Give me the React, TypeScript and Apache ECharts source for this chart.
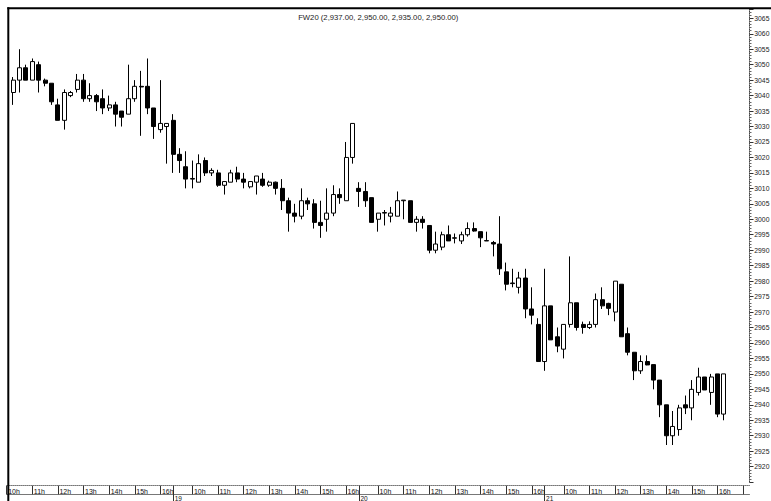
import React, { useEffect, useRef } from 'react';
import * as echarts from 'echarts';

// ---- data ----
const SYMBOL = 'FW20';
const DAYS = ['18', '19', '20', '21'];
const SLOT_TIMES = [
  '09:15', '09:30', '09:45', '10:00', '10:15', '10:30', '10:45', '11:00', '11:15', '11:30',
  '11:45', '12:00', '12:15', '12:30', '12:45', '13:00', '13:15', '13:30', '13:45', '14:00',
  '14:15', '14:30', '14:45', '15:00', '15:15', '15:30', '15:45', '16:00', '16:15',
];
const FIRST_DAY_START = '10:00';
const FUTURE_TIMES = ['16:30', '16:45', '17:00', '17:15'];

// 15-minute candles starting at 18 10:15
const OPEN = [
  3041, 3045, 3049, 3045, 3050, 3045, 3044, 3037, 3032, 3040,
  3042, 3045, 3039, 3040, 3039, 3036, 3037, 3035, 3034, 3039,
  3043, 3043, 3036, 3029, 3030, 3032, 3021, 3017, 3013, 3012,
  3019, 3015, 3015, 3011, 3012, 3015, 3013, 3010.5, 3012, 3013,
  3011, 3012, 3010, 3006, 3002, 3001, 3006, 3005, 2999, 3000,
  3002, 3008, 3006, 3020, 3010, 3009, 3007, 3000, 3002, 3001,
  3001, 3006, 3006, 2999, 3000, 2998, 2990, 2991, 2995, 2994,
  2993, 2995, 2997, 2996, 2993.1, 2992.5, 2992, 2983, 2979.4, 2978,
  2981, 2971, 2966, 2954, 2972, 2962, 2958, 2966, 2973, 2966,
  2965, 2966, 2974, 2972.8, 2970, 2979, 2963, 2957, 2951, 2954,
  2953, 2948, 2940, 2930, 2932, 2940, 2939, 2944, 2949, 2944,
  2950, 2937,
];
const HIGH = [
  3046, 3055, 3050, 3052, 3051, 3045.5, 3044, 3039, 3042, 3041.5,
  3047, 3047, 3044, 3040.5, 3042, 3040, 3038, 3035, 3050, 3045,
  3048, 3052, 3036, 3045, 3031, 3034, 3023, 3022, 3019, 3021,
  3020, 3016.5, 3016, 3012.2, 3016, 3017, 3015, 3012.2, 3014, 3015,
  3012.5, 3012.2, 3013, 3007, 3005, 3010, 3007, 3006.5, 3006, 3010,
  3011, 3010, 3025, 3031, 3012, 3012, 3007, 3002, 3003, 3004,
  3009, 3006.2, 3006, 3001, 3001, 2998, 2996, 2996, 2998, 2995.4,
  2996, 2999, 2999, 2996, 2996, 2993, 3001, 2986, 2984, 2983,
  2984, 2978, 2968, 2984, 2972, 2965, 2966, 2988, 2973, 2966.9,
  2967, 2976, 2978, 2973, 2980, 2979, 2965, 2957, 2956, 2956,
  2953, 2948, 2940, 2938, 2940, 2943, 2948, 2952, 2949, 2950,
  2950, 2950,
];
const LOW = [
  3037, 3041, 3045, 3045, 3041, 3043, 3037, 3032, 3029, 3039.5,
  3041, 3038, 3038, 3035, 3034, 3035, 3030, 3030, 3034, 3038,
  3027, 3034, 3026, 3028, 3018, 3015, 3015, 3010, 3010, 3012,
  3014, 3014, 3010.5, 3008, 3012, 3012, 3010, 3010, 3008, 3010.5,
  3010.5, 3008, 3003, 2996, 2999, 3000, 3003, 2997, 2994, 2996,
  3001, 3005, 3006, 3018, 3004, 3004, 2999, 2996, 2998, 2999,
  3001, 3000, 2999, 2996, 2997, 2989, 2989, 2990, 2993, 2992.2,
  2992, 2994.4, 2996, 2991, 2993, 2988, 2982, 2977, 2978, 2976,
  2968, 2966, 2954, 2951, 2961, 2957, 2955, 2965, 2964, 2963,
  2964.5, 2965, 2971, 2969, 2967, 2962, 2956, 2948, 2950, 2952.8,
  2945, 2936, 2927, 2927, 2930, 2937, 2935, 2943, 2944.8, 2940,
  2936, 2935,
];
const CLOSE = [
  3045, 3049, 3045, 3051, 3045, 3044, 3038, 3032, 3041, 3041,
  3045, 3039, 3040, 3038, 3036, 3037, 3034, 3033, 3039, 3043,
  3042.8, 3036, 3030, 3031, 3031, 3021, 3019, 3013, 3013.2, 3018,
  3015, 3015.8, 3011, 3012.2, 3015, 3013, 3012, 3012.2, 3014, 3011,
  3012, 3010, 3006, 3002, 3001, 3006, 3005, 2999, 2998, 3002,
  3008, 3007, 3020, 3031, 3009, 3006, 2999, 3002, 3002.2, 3002,
  3006, 3006.2, 2999, 3000, 2999, 2990, 2992, 2995, 2993, 2993.9,
  2995, 2997, 2996.2, 2994, 2993, 2992, 2984, 2979, 2979.2, 2981,
  2971, 2969, 2954, 2972, 2961, 2959, 2966, 2973, 2965, 2965,
  2966, 2974, 2972, 2971.2, 2980, 2962, 2957, 2951, 2954, 2952.9,
  2948, 2940, 2930, 2933, 2939, 2939, 2945, 2949, 2944.8, 2949,
  2937, 2950,
];

const Y_MIN = 2915;
const Y_MAX = 3068;
const Y_STEP = 5;

// ---- categories ----
const CATEGORIES: string[] = [];
DAYS.forEach((d, di) => {
  const times = di === 0 ? SLOT_TIMES.slice(SLOT_TIMES.indexOf(FIRST_DAY_START)) : SLOT_TIMES;
  times.forEach((t) => CATEGORIES.push(d + ' ' + t));
});
FUTURE_TIMES.forEach((t) => CATEGORIES.push(DAYS[DAYS.length - 1] + ' ' + t));
const FUTURE_SET = new Set(FUTURE_TIMES.map((t) => DAYS[DAYS.length - 1] + ' ' + t));

const FONT = '"Liberation Sans", Arial, Helvetica, sans-serif';

const isHour = (v: string) => v.endsWith(':00');
const isDayStart = (v: string) => v.endsWith(' ' + SLOT_TIMES[0]);

const fmt = (n: number) =>
  n.toLocaleString('en-US', { minimumFractionDigits: 2, maximumFractionDigits: 2 });

export default function App() {
  const ref = useRef<HTMLDivElement>(null);

  useEffect(() => {
    if (!ref.current) return;
    const chart = echarts.init(ref.current, undefined, { renderer: 'svg' });

    const data = CATEGORIES.map((_, i) => {
      const g = i - 1;
      if (g < 0 || g >= OPEN.length) return '-';
      return [OPEN[g], CLOSE[g], LOW[g], HIGH[g]];
    });
    const last = OPEN.length - 1;
    const titleText = `${SYMBOL} (${fmt(OPEN[last])}, ${fmt(HIGH[last])}, ${fmt(LOW[last])}, ${fmt(CLOSE[last])})`;

    const option: any = {
      animation: false,
      backgroundColor: '#ffffff',
      textStyle: { fontFamily: FONT },
      grid: {
        left: 6.7,
        right: 21.5,
        top: 9.02,
        bottom: 18.88,
        containLabel: false,
        outerBoundsMode: 'none',
      },
      xAxis: [
        {
          type: 'category',
          data: CATEGORIES,
          boundaryGap: false,
          position: 'bottom',
          offset: 3.6,
          axisLine: { show: true, lineStyle: { color: '#777', width: 1, type: 'dotted' } },
          axisTick: {
            show: true,
            interval: (_i: number, v: string) => isHour(v),
            length: 8.6,
            lineStyle: { color: '#333', width: 1 },
          },
          axisLabel: {
            show: true,
            interval: (_i: number, v: string) => isHour(v) && !FUTURE_SET.has(v),
            formatter: (v: string) => String(parseInt(v.split(' ')[1], 10)) + 'h',
            align: 'left',
            margin: 1.8,
            fontSize: 7,
            lineHeight: 7,
            color: '#111',
            fontFamily: FONT,
            padding: [0, 0, 0, 1.5],
          },
          splitLine: { show: false },
        },
        {
          type: 'category',
          data: CATEGORIES,
          boundaryGap: false,
          position: 'bottom',
          offset: 3.6,
          axisLine: { show: false },
          axisTick: {
            show: true,
            interval: (_i: number, v: string) => isDayStart(v),
            length: 16,
            lineStyle: { color: '#333', width: 1 },
          },
          axisLabel: {
            show: true,
            interval: (_i: number, v: string) => isDayStart(v),
            formatter: (v: string) => v.split(' ')[0],
            align: 'left',
            margin: 9.4,
            fontSize: 6.5,
            lineHeight: 6,
            color: '#111',
            fontFamily: FONT,
            padding: [0, 0, 0, 1.5],
          },
          splitLine: { show: false },
        },
        {
          type: 'category',
          data: CATEGORIES,
          boundaryGap: false,
          position: 'bottom',
          offset: 12.2,
          axisLine: { show: true, lineStyle: { color: '#777', width: 1 } },
          axisTick: { show: false },
          axisLabel: { show: false },
          splitLine: { show: false },
        },
      ],
      yAxis: {
        type: 'value',
        position: 'right',
        min: Y_MIN,
        max: Y_MAX,
        interval: Y_STEP,
        axisLine: { show: true, lineStyle: { color: '#444', width: 1, type: 'dotted' } },
        axisTick: { show: true, length: 4, lineStyle: { color: '#333', width: 1 } },
        minorTick: { show: true, splitNumber: 5, length: 2, lineStyle: { color: '#666', width: 1 } },
        axisLabel: {
          margin: 4.8,
          fontSize: 6.8,
          color: '#222',
          fontFamily: FONT,
          showMinLabel: false,
          showMaxLabel: false,
          formatter: (v: number) => String(v),
        },
        splitLine: { show: false },
        minorSplitLine: { show: false },
      },
      series: [
        {
          type: 'candlestick',
          xAxisIndex: 0,
          yAxisIndex: 0,
          data,
          barWidth: 4.5,
          itemStyle: {
            color: '#ffffff',
            color0: '#000000',
            borderColor: '#000000',
            borderColor0: '#000000',
            borderWidth: 1,
          },
        },
      ],
      graphic: [
        {
          type: 'line',
          z: 100,
          silent: true,
          shape: { x1: 7.3, y1: 8.3, x2: 771, y2: 8.3 },
          style: { stroke: '#000', lineWidth: 2 },
        },
        {
          type: 'line',
          z: 100,
          silent: true,
          shape: { x1: 8.3, y1: 7.3, x2: 8.3, y2: 501 },
          style: { stroke: '#000', lineWidth: 2 },
        },
        {
          type: 'text',
          z: 100,
          silent: true,
          x: 378.3,
          y: 17.3,
          style: {
            text: titleText,
            align: 'center',
            verticalAlign: 'middle',
            fontSize: 7.7,
            fontFamily: FONT,
            fill: '#222',
          },
        },
      ],
    };

    chart.setOption(option);
    return () => chart.dispose();
  }, []);

  return (
    <div
      ref={ref}
      style={{ position: 'fixed', left: 0, top: 0, width: 771, height: 501, background: '#fff' }}
    />
  );
}
